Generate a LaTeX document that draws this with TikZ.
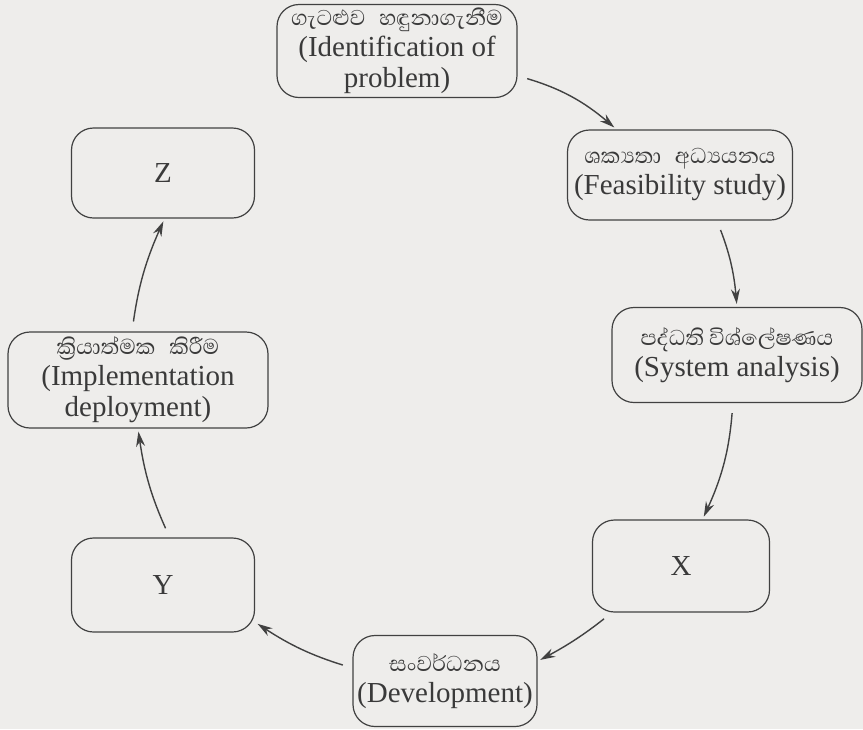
\documentclass[tikz,border=0pt]{standalone}
\usepackage{fontspec}
\setmainfont{Liberation Serif}
\newfontfamily\sinhala[Script=Sinhala,Scale=0.95]{Abhaya Libre}
\usetikzlibrary{arrows.meta}
\definecolor{paper}{RGB}{238,237,235}
\definecolor{ink}{RGB}{65,65,65}
\tikzset{
  stage/.style={draw=ink, line width=1.2pt, rounded corners=22pt, align=center,
    inner sep=0pt, text=ink!90!black, font=\fontsize{29}{31}\selectfont},
  arr/.style={draw=ink, line width=1.4pt, -{Stealth[length=15pt,width=9pt]},
    shorten <=10pt, shorten >=3pt},
}
\begin{document}
\begin{tikzpicture}[x=1pt,y=-1pt]
\fill[paper] (0,0) rectangle (863,729);
\useasboundingbox (0,0) rectangle (863,729);
% stages of the cycle
\node[stage, minimum width=240, minimum height=93] (ident) at (397,51){{\sinhala ගැටළුව\hspace{0.5em}හඳුනාගැනීම}\\(Identification of\\problem)};
\node[stage, minimum width=225, minimum height=90] (feas) at (680,175){{\sinhala ශක්^^^^200dයතා\hspace{0.5em}අධ්^^^^200dයයනය}\\(Feasibility study)};
\node[stage, minimum width=250, minimum height=95] (sysan) at (737,355){{\sinhala පද්ධති විශ්ලේෂණය}\\(System analysis)};
\node[stage, minimum width=177, minimum height=92] (X) at (681,566){X};
\node[stage, minimum width=184, minimum height=91] (dev) at (445,681){{\sinhala සංවර්ධනය}\\(Development)};
\node[stage, minimum width=183, minimum height=94] (Y) at (163,585){Y};
\node[stage, minimum width=260, minimum height=96] (impl) at (138,380){{\sinhala ක්^^^^200dරියාත්මක\hspace{0.5em}කිරීම}\\(Implementation\\deployment)};
\node[stage, minimum width=183, minimum height=90] (Z) at (163,173){Z};
% arrows
\draw[arr] (ident) to[bend left=12] (feas);
\draw[arr] (feas.-51) to[bend left=8] (sysan.north);
\draw[arr] (sysan) to[bend left=10] (X);
\draw[arr] (X.214) to[bend left=5] (dev.12);
\draw[arr] (dev.172) to[bend left=8] (Y.-22);
\draw[arr] (Y.82) to[bend left=8] (impl.south);
\draw[arr] (impl.97) to[bend left=8] (Z.-88);
\end{tikzpicture}
\end{document}
